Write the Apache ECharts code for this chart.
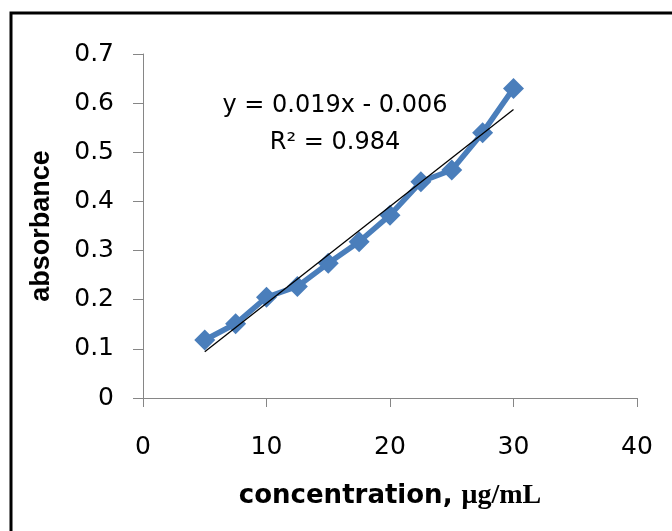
<!DOCTYPE html>
<html>
<head>
<meta charset="utf-8">
<script src="https://cdn.jsdelivr.net/npm/echarts@6/dist/echarts.min.js"></script>
<style>
  html, body { margin: 0; padding: 0; background: #fff; }
  #calibChart { width: 672px; height: 531px; }
</style>
</head>
<body>
<div id="calibChart"></div>
<script>
// concentration (ug/mL) vs absorbance
const concentration = [5, 7.5, 10, 12.5, 15, 17.5, 20, 22.5, 25, 27.5, 30];
const absorbance = [0.118, 0.151, 0.205, 0.227, 0.274, 0.318, 0.372, 0.440, 0.464, 0.540, 0.630];

// linear trendline end points
const trendX = [5, 30];
const trendY = [0.094, 0.587];

const equationText = 'y = 0.019x - 0.006';
const r2Text = 'R\u00B2 = 0.984';

document.addEventListener('DOMContentLoaded', () => {
  const chart = echarts.init(document.getElementById('calibChart'), null, {
    renderer: 'canvas'
  });
  chart.setOption(buildCalibOptions());
});

function buildCalibOptions() {
  const axisGray = '#868686';
  const tickFont = {
    color: '#000',
    fontSize: 25,
    fontFamily: 'DejaVu Sans'
  };

  return {
    backgroundColor: '#fff',
    animation: false,
    grid: {
      left: 143,
      right: 35,
      top: 54,
      bottom: 133
    },
    xAxis: {
      type: 'value',
      min: 0,
      max: 40,
      interval: 10,
      splitLine: { show: false },
      axisLine: { lineStyle: { color: axisGray, width: 1 } },
      axisTick: { length: 9, lineStyle: { color: axisGray } },
      axisLabel: { ...tickFont, margin: 37 },
      name: '{a|concentration, }{b|\u03BCg/mL}',
      nameLocation: 'middle',
      nameGap: 84,
      nameTextStyle: {
        rich: {
          a: { fontFamily: 'DejaVu Sans', fontWeight: 'bold', fontSize: 26, color: '#000' },
          b: { fontFamily: 'Liberation Serif', fontWeight: 'bold', fontSize: 28, color: '#000' }
        }
      }
    },
    yAxis: {
      type: 'value',
      min: 0,
      max: 0.7,
      interval: 0.1,
      splitLine: { show: false },
      axisLine: { show: true, lineStyle: { color: axisGray, width: 1 } },
      axisTick: { show: true, length: 10, lineStyle: { color: axisGray } },
      axisLabel: {
        ...tickFont,
        margin: 29,
        formatter: v => (v === 0 ? '0' : v.toFixed(1))
      },
      name: 'absorbance',
      nameLocation: 'middle',
      nameGap: 88,
      nameTextStyle: {
        fontFamily: 'Liberation Sans',
        fontWeight: 'bold',
        fontSize: 27,
        color: '#000'
      }
    },
    graphic: [
      {
        type: 'rect',
        shape: { x: 11, y: 13, width: 700, height: 600 },
        style: { fill: 'none', stroke: '#000', lineWidth: 3 },
        silent: true
      },
      {
        type: 'text',
        x: 335,
        y: 106,
        style: {
          text: equationText,
          fontFamily: 'DejaVu Sans',
          fontSize: 24,
          fill: '#000',
          align: 'center',
          verticalAlign: 'middle'
        }
      },
      {
        type: 'text',
        x: 335,
        y: 143,
        style: {
          text: r2Text,
          fontFamily: 'DejaVu Sans',
          fontSize: 24,
          fill: '#000',
          align: 'center',
          verticalAlign: 'middle'
        }
      }
    ],
    series: [
      {
        name: 'absorbance',
        type: 'line',
        data: concentration.map((x, i) => [x, absorbance[i]]),
        symbol: 'diamond',
        symbolSize: 21,
        lineStyle: { color: '#4A7EBB', width: 5.5 },
        itemStyle: { color: '#4A7EBB' },
        z: 2
      },
      {
        name: 'trend',
        type: 'line',
        data: trendX.map((x, i) => [x, trendY[i]]),
        symbol: 'none',
        lineStyle: { color: '#000', width: 1.3 },
        z: 3
      }
    ]
  };
}
</script>
</body>
</html>
